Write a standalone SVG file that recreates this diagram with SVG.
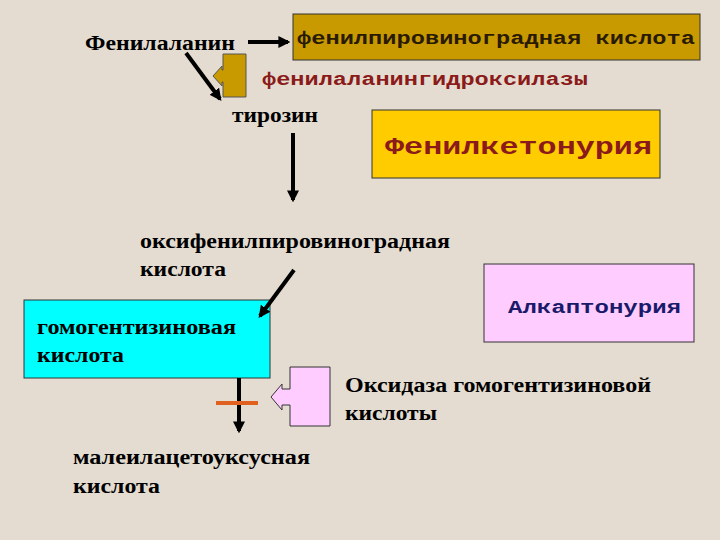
<svg xmlns="http://www.w3.org/2000/svg" width="720" height="540" viewBox="0 0 720 540">
<defs>
<style>
.s{font-family:"Liberation Serif",serif;font-weight:bold;font-size:20px;fill:#000}
.m{font-family:"Liberation Mono",monospace;font-weight:bold}
.ln{stroke:#000;stroke-width:4;fill:none}
</style>
<marker id="ah" viewBox="0 0 10 10" refX="8" refY="5" markerWidth="3" markerHeight="3" orient="auto"><path d="M0,0L10,5L0,10z" fill="#000"/></marker>
</defs>
<rect width="720" height="540" fill="#e4dcd0"/>
<g id="phe"><text class="s" x="85" y="50" textLength="150" lengthAdjust="spacingAndGlyphs">Фенилаланин</text></g>
<g id="ppk"><rect x="293" y="14" width="407" height="46" fill="#c89a00" stroke="#333" stroke-width="1"/><text class="m" x="297" y="44" font-size="19" fill="#2a1a00" textLength="398" lengthAdjust="spacingAndGlyphs">фенилпировиноградная кислота</text></g>
<g id="enz1"><polygon points="213,76 222,66 222,70 223,70 223,54 246,54 246,97 223,97 223,82 222,82 222,86" fill="#c89a00" stroke="#555" stroke-width="1"/><text class="m" x="262" y="85" font-size="18" fill="#8b1a1a" textLength="326" lengthAdjust="spacingAndGlyphs">фенилаланингидроксилазы</text></g>
<g id="tyr"><text class="s" x="232" y="122" textLength="86" lengthAdjust="spacingAndGlyphs">тирозин</text></g>
<g id="pku"><rect x="372" y="110" width="288" height="68" fill="#ffcc00" stroke="#333" stroke-width="1"/><text class="m" x="385" y="154" font-size="24" fill="#8b1a1a" textLength="267" lengthAdjust="spacingAndGlyphs">Фенилкетонурия</text></g>
<g id="ohpp"><text class="s" x="140" y="248" textLength="310" lengthAdjust="spacingAndGlyphs">оксифенилпировиноградная</text><text class="s" x="140" y="276" textLength="86" lengthAdjust="spacingAndGlyphs">кислота</text></g>
<g id="hga"><rect x="24" y="300" width="246" height="78" fill="#00ffff" stroke="#333" stroke-width="1"/><text class="s" x="37" y="334" fill="#1a3a3a" textLength="199" lengthAdjust="spacingAndGlyphs">гомогентизиновая</text><text class="s" x="37" y="362" fill="#1a3a3a" textLength="87" lengthAdjust="spacingAndGlyphs">кислота</text></g>
<g id="alk"><rect x="484" y="264" width="210" height="78" fill="#ffccff" stroke="#333" stroke-width="1"/><text class="m" x="508" y="313" font-size="19" fill="#1a1a6a" textLength="173" lengthAdjust="spacingAndGlyphs">Алкаптонурия</text></g>
<g id="enz2"><polygon points="271,397 282,384 282,389 290,389 290,367 330,367 330,426 290,426 290,405 282,405 282,410" fill="#ffccff" stroke="#333" stroke-width="1"/><text class="s" x="345" y="392" textLength="306" lengthAdjust="spacingAndGlyphs">Оксидаза гомогентизиновой</text><text class="s" x="345" y="420" textLength="92" lengthAdjust="spacingAndGlyphs">кислоты</text></g>
<g id="maa"><text class="s" x="73" y="464" textLength="237" lengthAdjust="spacingAndGlyphs">малеилацетоуксусная</text><text class="s" x="73" y="493" textLength="87" lengthAdjust="spacingAndGlyphs">кислота</text></g>
<g id="connectors">
<line class="ln" x1="248" y1="42" x2="288" y2="42" marker-end="url(#ah)"/>
<line class="ln" x1="186" y1="53" x2="220" y2="99" marker-end="url(#ah)"/>
<line class="ln" x1="293" y1="133" x2="293" y2="200" marker-end="url(#ah)"/>
<line class="ln" x1="294" y1="270" x2="260" y2="316" marker-end="url(#ah)"/>
<line class="ln" x1="239" y1="378" x2="239" y2="431" marker-end="url(#ah)"/>
<line x1="216" y1="403" x2="258" y2="403" stroke="#e06020" stroke-width="4"/>
</g>
</svg>
